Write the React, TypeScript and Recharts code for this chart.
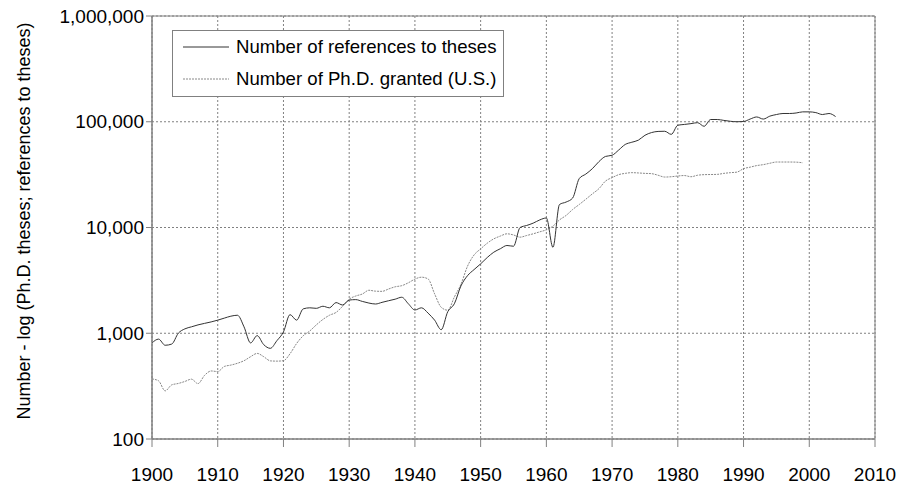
import React from 'react';
import { LineChart, Line, XAxis, YAxis, CartesianGrid, ReferenceArea } from 'recharts';

const refYears: number[] = [];
for (let y = 1900; y <= 2004; y++) refYears.push(y);

const refValues = [
  810, 880, 770, 790, 1000, 1100, 1150, 1200, 1240, 1280,
  1330, 1390, 1450, 1480, 1150, 810, 950, 780, 720, 850,
  1030, 1500, 1330, 1700, 1740, 1720, 1800, 1740, 1950, 1850,
  2060, 2080, 2000, 1930, 1890, 1960, 2030, 2100, 2190, 1900,
  1660, 1740, 1550, 1330, 1080, 1600, 1900, 2800, 3500, 4000,
  4530, 5200, 5840, 6300, 6760, 6650, 10000, 10450, 11000, 11800,
  12300, 6500, 16500, 17400, 19000, 29000, 32000, 36000, 42000, 47000,
  48200, 54000, 61000, 64000, 67000, 74500, 79000, 81000, 81300, 76000,
  92700, 94300, 96000, 98000, 90600, 105000, 105000, 103000, 101000, 100000,
  100500, 106000, 111000, 106000, 113000, 117000, 119700, 119700, 121000, 124000,
  124000, 122000, 117000, 119700, 112000,
];

const phdValues = [
  370, 355, 285, 325, 335, 350, 368, 334, 400, 440,
  434, 485, 500, 520, 550, 600, 645, 600, 548, 545,
  550, 640, 800, 946, 1050, 1200, 1350, 1480, 1573, 1800,
  2100, 2250, 2350, 2550, 2500, 2490, 2622, 2750, 2818, 3000,
  3250, 3390, 3265, 2355, 1760, 1650, 2200, 2900, 4300, 5500,
  6280, 7100, 7810, 8300, 8720, 8500, 8100, 8400, 8720, 9100,
  9510, 10300, 11800, 13000, 14800, 16500, 18500, 20800, 23300, 27500,
  29600, 31600, 32500, 33000, 32800, 32500, 32300, 31200, 30000, 30200,
  30700, 31000, 30200, 31200, 31600, 31700, 31800, 32500, 33000, 33400,
  36000, 37200, 38500, 39300, 40500, 41600, 41600, 41600, 41500, 40900,
];

const xTicks = [1900, 1910, 1920, 1930, 1940, 1950, 1960, 1970, 1980, 1990, 2000, 2010];
const yTicks = [100, 1000, 10000, 100000, 1000000];

const seriesNames = ['Number of references to theses', 'Number of Ph.D. granted (U.S.)'];
const yLabel = 'Number - log (Ph.D. theses; references to theses)';

const data = refYears.map((year, i) => ({
  year,
  refs: refValues[i],
  phd: i < phdValues.length ? phdValues[i] : undefined,
}));

const FONT = '"Liberation Sans", Arial, sans-serif';
const GRID = '#808080';

const LegendBox = () => (
  <div
    style={{
      position: 'absolute',
      left: 172,
      top: 30,
      width: 332,
      height: 67,
      border: '1px solid #808080',
      background: '#fff',
      fontFamily: FONT,
      fontSize: 18.6,
      color: '#000',
      boxSizing: 'border-box',
    }}
  >
    {seriesNames.map((name, i) => (
      <div
        key={name}
        style={{
          position: 'absolute',
          left: 10,
          top: i === 0 ? 4 : 36,
          height: 24,
          display: 'flex',
          alignItems: 'center',
          whiteSpace: 'nowrap',
        }}
      >
        <svg width={46} height={4} style={{ marginRight: 7 }}>
          <line
            x1={0}
            y1={2}
            x2={46}
            y2={2}
            stroke={i === 0 ? '#333' : '#888'}
            strokeWidth={1}
            strokeDasharray={i === 0 ? undefined : '2 1'}
          />
        </svg>
        <span>{name}</span>
      </div>
    ))}
  </div>
);

const YLabel = () => (
  <text
    x={24}
    y={221}
    transform="rotate(-90 24 221)"
    textAnchor="middle"
    dominantBaseline="central"
    fontFamily={FONT}
    fontSize={18}
    fill="#000"
  >
    {yLabel}
  </text>
);

export default function App() {
  return (
    <div style={{ position: 'absolute', left: 0, top: 0, width: 898, height: 486, background: '#fff' }}>
      <LineChart
        width={898}
        height={486}
        data={data}
        margin={{ top: 16, right: 23, bottom: 0, left: 0 }}
      >
        <CartesianGrid stroke={GRID} strokeDasharray="2 2" />
        <XAxis
          dataKey="year"
          type="number"
          domain={[1900, 2010]}
          ticks={xTicks}
          interval={0}
          height={47}
          stroke={GRID}
          tickSize={8}
          tickMargin={21}
          tick={{ fill: '#000', fontSize: 19, fontFamily: FONT }}
          tickLine={{ stroke: GRID }}
        />
        <YAxis
          scale="log"
          domain={[100, 1000000]}
          ticks={yTicks}
          interval={0}
          allowDataOverflow
          width={152}
          stroke={GRID}
          tickSize={6}
          tickMargin={2}
          tickFormatter={(v: number) => v.toLocaleString('en-US')}
          tick={{ fill: '#000', fontSize: 19, fontFamily: FONT }}
          tickLine={{ stroke: GRID }}
          label={YLabel}
        />
        <ReferenceArea
          x1={1900}
          x2={2010}
          y1={100}
          y2={1000000}
          fill="none"
          stroke={GRID}
          strokeWidth={1}
        />
        <Line
          type="monotone"
          dataKey="phd"
          stroke="#888"
          strokeWidth={1}
          strokeDasharray="2 1"
          dot={false}
          isAnimationActive={false}
          connectNulls={false}
        />
        <Line
          type="monotone"
          dataKey="refs"
          stroke="#333"
          strokeWidth={1}
          dot={false}
          isAnimationActive={false}
        />
      </LineChart>
      <LegendBox />
    </div>
  );
}
